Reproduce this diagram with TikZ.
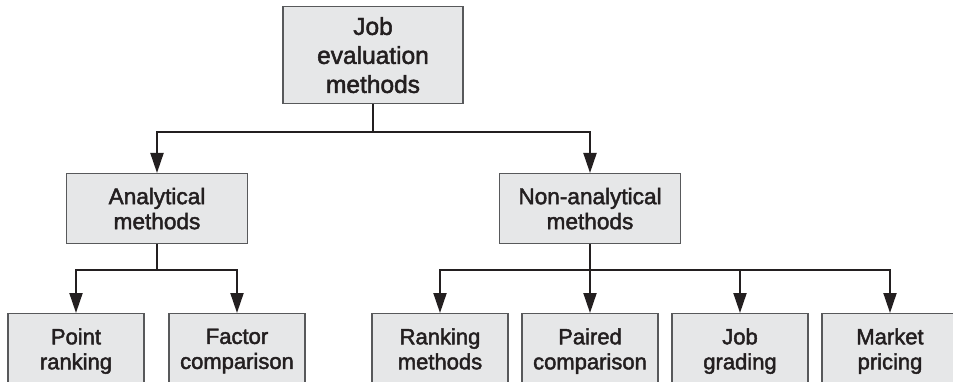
\documentclass[tikz,border=0pt]{standalone}
\usepackage{fontspec}
\setmainfont{Liberation Sans}[FakeBold=2]
\usetikzlibrary{arrows.meta}

\definecolor{boxfill}{HTML}{E6E7E8}
\definecolor{boxline}{HTML}{58595B}
\definecolor{ink}{HTML}{231F20}

\begin{document}
\begin{tikzpicture}[x=1pt,y=-1pt,
  box/.style={draw=boxline, line width=1.2pt, fill=boxfill, text=ink,
    align=center, inner sep=0pt, anchor=north},
  rootbox/.style={box, minimum width=180pt, minimum height=97pt,
    font=\fontsize{24.5}{29}\selectfont},
  midbox/.style={box, minimum width=181pt, minimum height=70pt,
    font=\fontsize{22.6}{25}\selectfont},
  leafbox/.style={box, minimum width=136pt, minimum height=75pt,
    font=\fontsize{22}{25}\selectfont,
    execute at end node={\vphantom{g}}},
  link/.style={draw=ink, line width=2pt},
  arrowlink/.style={link, -{Triangle[length=20pt,width=13pt]}}
]
\useasboundingbox (0,0) rectangle (953,382);
\clip (0,0) rectangle (953,382);

% boxes
\node[rootbox] (root) at (373,6) {Job\\evaluation\\methods};
\node[midbox] (ana) at (157,173) {Analytical\\methods};
\node[midbox] (non) at (590,173) {Non-analytical\\methods};

\node[leafbox] (pr) at (76,313) {Point\\ranking};
\node[leafbox] (fc) at (237,313) {Factor\\comparison};
\node[leafbox] (rm) at (440,313) {Ranking\\methods};
\node[leafbox] (pc) at (590,313) {Paired\\comparison};
\node[leafbox] (jg) at (740,313) {Job\\grading};
\node[leafbox] (mp) at (890,313) {Market\\pricing};

% branching points
\coordinate (j0) at (373,132);
\coordinate (j1) at (157,270);
\coordinate (j2) at (590,270);

% connectors
\draw[link] (root.south) -- (j0);
\draw[arrowlink] (j0) -| (ana.north);
\draw[arrowlink] (j0) -| (non.north);

\draw[link] (ana.south) -- (j1);
\draw[arrowlink] (j1) -| (pr.north);
\draw[arrowlink] (j1) -| (fc.north);

\draw[arrowlink] (non.south) -- (pc.north);
\draw[arrowlink] (j2) -| (rm.north);
\draw[arrowlink] (j2) -| (jg.north);
\draw[arrowlink] (j2) -| (mp.north);
\end{tikzpicture}
\end{document}
